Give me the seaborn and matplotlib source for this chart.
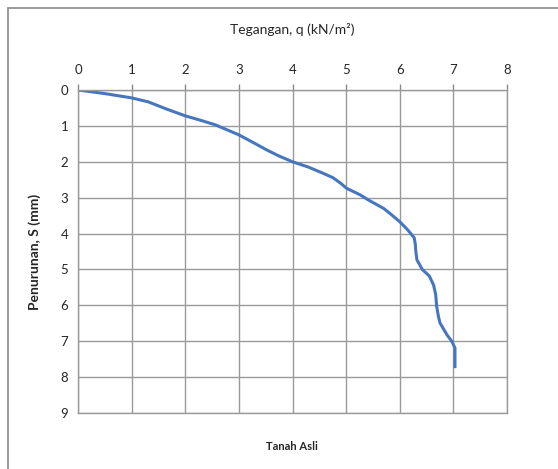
import matplotlib
matplotlib.use("Agg")
import matplotlib.pyplot as plt
import seaborn as sns
import pandas as pd
from matplotlib.lines import Line2D

# tegangan q (kN/m2) dan penurunan S (mm)
tegangan = [0, 0.5, 1.0, 1.31, 1.65, 2.0, 2.3, 2.56, 3.0, 3.25, 3.52, 3.75, 4.0,
            4.3, 4.57, 4.75, 4.9, 5.01, 5.26, 5.41, 5.7, 5.85, 6.0, 6.15, 6.27,
            6.29, 6.3, 6.32, 6.42, 6.55, 6.63, 6.67, 6.69, 6.72, 6.75, 6.88,
            6.97, 7.03, 7.03]
penurunan = [0, 0.1, 0.22, 0.33, 0.53, 0.72, 0.85, 0.97, 1.25, 1.45, 1.67, 1.84,
             2.0, 2.15, 2.32, 2.44, 2.6, 2.74, 2.92, 3.06, 3.3, 3.48, 3.67, 3.9,
             4.12, 4.3, 4.5, 4.73, 5.0, 5.18, 5.43, 5.7, 6.04, 6.3, 6.49, 6.82,
             7.0, 7.19, 7.75]
xticks = list(range(0, 9))
yticks = list(range(0, 10))

df = pd.DataFrame({"q": tegangan, "S": penurunan})

sns.set_style("white")
plt.rcParams['font.family'] = ['Lato', 'DejaVu Sans']

fig = plt.figure(figsize=(5.58, 4.69), dpi=100)
ax = fig.add_axes([0.1398, 0.1194, 0.9086 - 0.1398, 0.8081 - 0.1194])

sns.lineplot(data=df, x="q", y="S", sort=False, estimator=None,
             color="#4677be", linewidth=2.2, ax=ax,
             solid_joinstyle="round", solid_capstyle="butt")

ax.set_xlim(0, 8)
ax.set_ylim(9, 0)
ax.set_xticks(xticks)
ax.set_yticks(yticks)
ax.xaxis.tick_top()
ax.xaxis.set_label_position("top")
ax.grid(True, color="#9a9a9a", linewidth=1.0)
for s in ax.spines.values():
    s.set_color("#9a9a9a")
    s.set_linewidth(1.0)
ax.tick_params(axis="both", length=4, width=1, color="#8a8a8a",
               labelsize=9.5, pad=3, direction="out")
ax.tick_params(axis="x", pad=6)
ax.set_xlabel("Tegangan, q (kN/m²)", fontsize=10, labelpad=22)
ax.set_ylabel("Penurunan, S (mm)", fontsize=10, fontweight="bold", labelpad=14)

fig.text(0.5233, 0.049, "Tanah Asli", fontsize=8, fontweight="bold",
         ha="center", va="center")

# bingkai grafik
fig.add_artist(Line2D([0.0145, 0.0145], [0.0, 0.983], transform=fig.transFigure,
                      color="#8a8a8a", linewidth=1.2))
fig.add_artist(Line2D([0.0145, 1.0], [0.983, 0.983], transform=fig.transFigure,
                      color="#8a8a8a", linewidth=1.2))

fig.savefig("out.png", dpi=100)
